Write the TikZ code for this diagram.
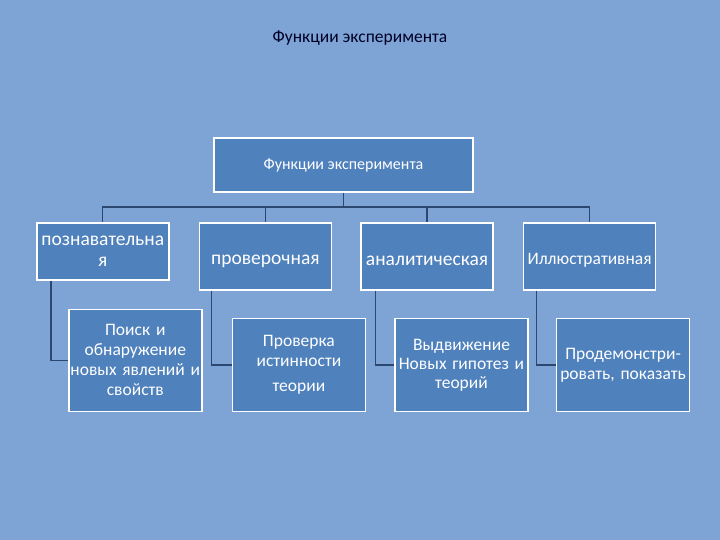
\documentclass[tikz,border=0pt]{standalone}
\usepackage{fontspec}
\setmainfont{Carlito}
\usepackage{tikz}
\usetikzlibrary{positioning}
\definecolor{slidebg}{RGB}{126,164,214}
\definecolor{boxfill}{RGB}{79,129,189}
\definecolor{linkcol}{RGB}{45,72,112}

\begin{document}
\begin{tikzpicture}[
    x=1pt, y=-1pt,
    every node/.style={font=\fontsize{19.5}{21}\selectfont},
    head/.style={rectangle, draw=white, line width=1.6pt, fill=boxfill, text=white,
                 minimum width=259pt, minimum height=54pt, inner sep=2pt,
                 font=\fontsize{16}{18}\selectfont},
    func/.style={rectangle, draw=white, line width=1.6pt, fill=boxfill, text=white,
                 text width=130pt, align=center, minimum height=67pt, inner sep=1pt},
    lowered/.style={execute at begin node={\rule{0pt}{19pt}}},
    sub/.style={rectangle, draw=white, line width=1.6pt, fill=boxfill, text=white,
                text width=131pt, align=center, minimum height=93pt, inner sep=1pt,
                font=\fontsize{17.5}{20}\selectfont},
    link/.style={draw=linkcol, line width=1.2pt},
]
\useasboundingbox (0,0) rectangle (720,540);
\fill[slidebg] (0,0) rectangle (720,540);

% Title
\node[font=\fontsize{17.5}{20}\selectfont, text=black!85!blue] (title) at (360,38) {Функции эксперимента};

% Row 1: root
\node[head] (root) at (343.5,165) {Функции эксперимента};

% Row 2: kinds of function
\node[func, minimum height=57pt, anchor=north west] (k1) at (36,222) {познавательна\\я};
\node[func, lowered, right=29pt of k1.north east, anchor=north west] (k2) {проверочная};
\node[func, lowered, right=28pt of k2.north east, anchor=north west] (k3) {аналитическая};
\node[func, lowered, right=29pt of k3.north east, anchor=north west, font=\fontsize{17.5}{20}\selectfont] (k4) {Иллюстративная};

% Row 3: what each one does
\node[sub, below=28pt of k1.south west, anchor=north west, xshift=32pt, minimum height=102pt] (s1) {Поиск и\\обнаружение\\новых явлений и\\свойств};
\node[sub, below=27pt of k2.south west, anchor=north west, xshift=33pt] (s2) {Проверка\\истинности\\[5pt]теории};
\node[sub, below=27pt of k3.south west, anchor=north west, xshift=34pt, font=\fontsize{17.5}{19}\selectfont] (s3) {Выдвижение\\Новых гипотез и\\теорий};
\node[sub, below=27pt of k4.south west, anchor=north west, xshift=33pt] (s4) {Продемонстри-\\ровать, показать};

% Links: root to row 2
\coordinate (bus) at (343.5,207);
\draw[link] (root.south) -- (bus);
\foreach \k in {k1,k2,k3,k4}
  \draw[link] (bus) -| (\k.north);

% Links: row 2 to row 3
\draw[link] (k1.south west) ++(15pt,0) |- (s1.west);
\draw[link] (k2.south west) ++(13pt,0) |- (s2.west);
\draw[link] (k3.south west) ++(15pt,0) |- (s3.west);
\draw[link] (k4.south west) ++(14pt,0) |- (s4.west);

\end{tikzpicture}
\end{document}
